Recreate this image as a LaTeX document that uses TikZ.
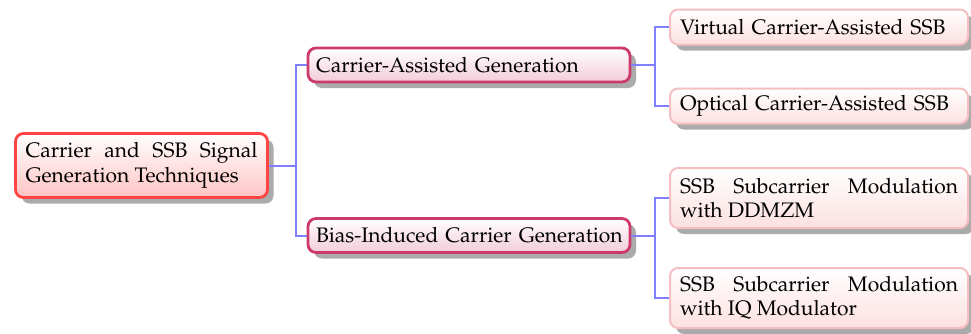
\documentclass[tikz,border=0pt]{standalone}
\usepackage[T1]{fontenc}
\usepackage{mathpazo}
\usetikzlibrary{shadows}

\definecolor{linkblue}{HTML}{8080FF}
\definecolor{rootedge}{HTML}{FF4444}
\definecolor{rootfill}{HTML}{FFC4C4}
\definecolor{midedge}{HTML}{CC3A6A}
\definecolor{midfill}{HTML}{F2CCD8}
\definecolor{leafedge}{HTML}{F5BFC1}
\definecolor{leaffill}{HTML}{FCE0E0}

\tikzset{
  boxbase/.style={rounded corners=4pt, inner xsep=5pt, inner ysep=3pt,
    font=\fontsize{10.5}{12.3}\selectfont,
    drop shadow={shadow xshift=3pt, shadow yshift=-3pt, fill=black!33, opacity=1}},
  rootbox/.style={boxbase, draw=rootedge, line width=1.4pt, top color=white,
    bottom color=rootfill, text width=116pt, align=justify, minimum height=32pt},
  midbox/.style={boxbase, inner xsep=4pt, draw=midedge, line width=1.4pt, top color=white,
    bottom color=midfill, text width=153pt, align=left, minimum height=17pt},
  leafbox/.style={boxbase, draw=leafedge, line width=1pt, top color=white,
    bottom color=leaffill, text width=139pt, align=left, minimum height=17.5pt},
  leafjust/.style={leafbox, align=justify, minimum height=30pt},
  link/.style={draw=linkblue, line width=1pt}
}

\begin{document}
\begin{tikzpicture}[x=0.5pt, y=-0.5pt]
  \useasboundingbox (0,0) rectangle (971,333);

  % branch points of the tree
  \coordinate (j0) at (296,165.5);
  \coordinate (j1) at (655,65);
  \coordinate (j2) at (655,235.5);

  \node[rootbox] (root) at (141.5,165.5)
    {Carrier and SSB Signal Generation Techniques};

  \node[midbox] (cag) at (469,65) {\mbox{Carrier-Assisted Generation}};
  \node[midbox] (bicg) at (469,235.5) {\mbox{Bias-Induced Carrier Generation}};

  \node[leafbox] (vca) at (819,27) {\mbox{Virtual Carrier-Assisted SSB}};
  \node[leafbox] (oca) at (819,106) {\mbox{Optical Carrier-Assisted SSB}};
  \node[leafjust] (ddm) at (819,198) {SSB Subcarrier Modulation with DDMZM};
  \node[leafjust] (iqm) at (819,298) {SSB Subcarrier Modulation with IQ Modulator};

  \path[link] (root.east) -- (j0) |- (cag.west);
  \path[link] (j0) |- (bicg.west);
  \path[link] (cag.east) -- (j1) |- (vca.west);
  \path[link] (j1) |- (oca.west);
  \path[link] (bicg.east) -- (j2) |- (ddm.west);
  \path[link] (j2) |- (iqm.west);
\end{tikzpicture}
\end{document}
